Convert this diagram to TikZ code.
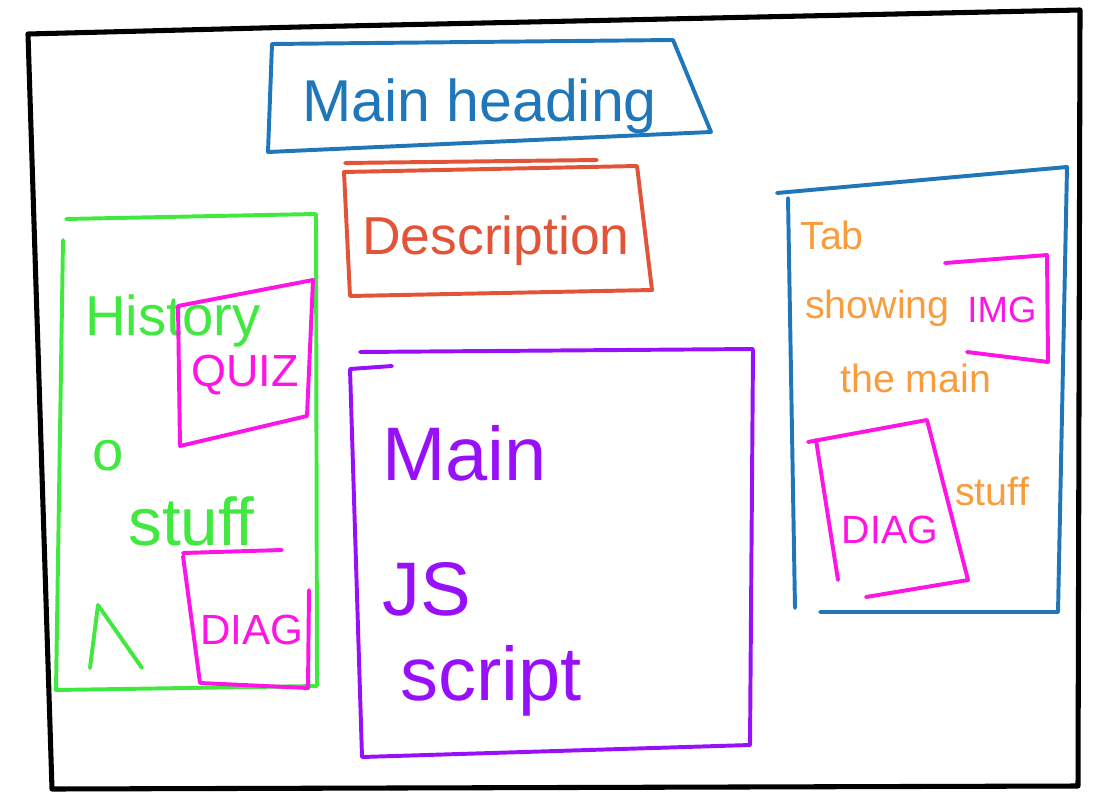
\documentclass[tikz,border=0pt]{standalone}
\usepackage{fontspec}
\setmainfont{Liberation Sans}
\definecolor{hblue}{RGB}{31,119,186}
\definecolor{hred}{RGB}{226,83,56}
\definecolor{hgreen}{RGB}{64,232,64}
\definecolor{hpink}{RGB}{255,20,230}
\definecolor{hpurple}{RGB}{152,16,250}
\definecolor{horange}{RGB}{248,156,60}
\newcommand{\fs}[1]{\fontsize{#1}{#1}\selectfont}
\begin{document}
\begin{tikzpicture}[line cap=round,line join=round,x=0.025cm,y=-0.025cm]
		\tikzset{pen/.style={line width=2.8pt},word/.style={inner sep=0pt,anchor=base west},mid/.style={inner sep=0pt}}
		\useasboundingbox (0,0) rectangle (1096,800);
		\draw[line width=3.6pt] (28,34)--(300,27)--(1080,10)--(1078,786)--(52,789)--cycle;
		% heading and description
		\draw[pen,hblue] (272,44)--(673,40)--(711,132)--(268,152)--cycle;
		\node[word,hblue,font=\fs{42}] (head) at (302,122) {Main heading};
		\draw[pen,hred] (345,163)--(597,160);
		\draw[pen,hred] (344,172)--(637,166)--(652,290)--(350,296)--cycle;
		\node[word,hred,font=\fs{38}] (desc) at (362,255) {Description};
		% left column
		\draw[pen,hgreen] (66,219)--(315,214);
		\draw[pen,hgreen] (63,240)--(56,690)--(317,686)--(316,214);
		\node[word,hgreen,font=\fs{40}] (hist) at (85,335) {History};
		\node[word,hgreen,font=\fs{40}] (o) at (92,470) {o};
		\node[word,hgreen,font=\fs{48}] (stuff) at (128,545) {stuff};
		\draw[pen,hgreen] (90,668)--(98,605)--(142,668);
		\draw[pen,hpink] (178,306)--(313,280)--(307,416)--(180,446)--cycle;
		\node[mid,hpink,font=\fs{32}] (quiz) at (245,375) {QUIZ};
		\draw[pen,hpink] (183,553)--(282,550);
		\draw[pen,hpink] (183,556)--(200,683)--(308,688)--(309,590);
		\node[mid,hpink,font=\fs{30}] (diagl) at (252,630) {DIAG};
		% main script
		\draw[pen,hpurple] (360,352)--(753,349);
		\draw[pen,hpurple] (392,366)--(350,369)--(362,757)--(750,745)--(753,350);
		\node[word,hpurple,font=\fs{54}] (mainjs) at (382,480) {Main};
		\node[word,hpurple,font=\fs{54}] (js) at (382,615) {JS};
		\node[word,hpurple,font=\fs{54}] (script) at (400,700) {script};
		% tab column
		\draw[pen,hblue] (777,193)--(1067,167)--(1058,612)--(820,612);
		\draw[pen,hblue] (788,198)--(795,608);
		\draw[pen,hpink] (945,263)--(1047,255)--(1048,362)--(967,352);
		\node[mid,hpink,font=\fs{26}] (img) at (1002,310) {IMG};
		\draw[pen,hpink] (808,442)--(927,420)--(968,580)--(866,597);
		\draw[pen,hpink] (816,440)--(838,580);
		\node[mid,hpink,font=\fs{28}] (diagr) at (890,530) {DIAG};
		\node[word,horange,font=\fs{28}] (tab) at (800,250) {Tab};
		\node[word,horange,font=\fs{28}] (showing) at (805,318) {showing};
		\node[word,horange,font=\fs{28}] (themain) at (840,392) {the main};
		\node[word,horange,font=\fs{28}] (tabstuff) at (955,505) {stuff};
\end{tikzpicture}
\end{document}
